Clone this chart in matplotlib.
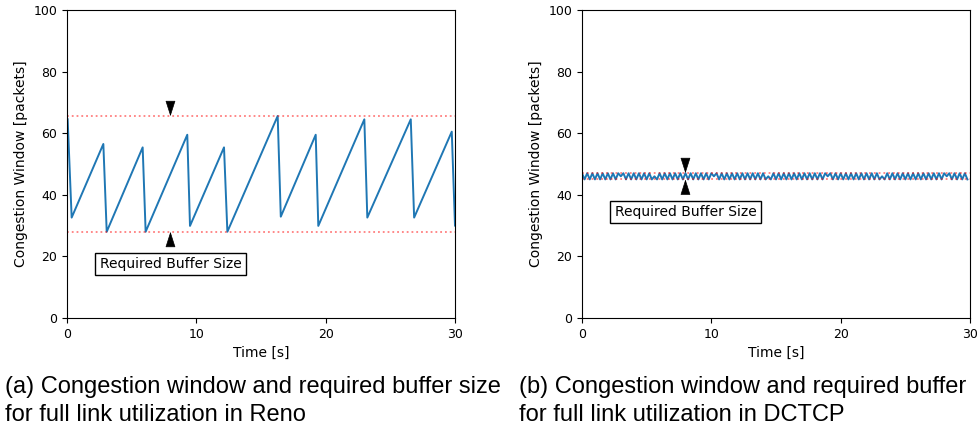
import matplotlib
matplotlib.use('Agg')
import matplotlib.pyplot as plt
import numpy as np

# Reno congestion window (sawtooth)
reno_time = [0.05, 0.36, 2.81, 3.07, 5.85, 6.08, 9.30, 9.51, 12.14, 12.40,
             16.29, 16.53, 19.23, 19.43, 22.99, 23.22, 26.58, 26.84, 29.75, 30.0]
reno_cwnd = [64.5, 32.6, 56.5, 28.0, 55.4, 28.0, 59.5, 29.9, 55.4, 28.0,
             65.6, 32.9, 59.5, 29.9, 64.5, 32.6, 64.5, 32.6, 60.5, 30.0]
reno_buffer = [28.0, 65.5]

# DCTCP congestion window, sampled every 0.2 s
dctcp_step = 0.2
dctcp_cwnd = [
    47, 45, 47, 45, 47, 45, 47, 45, 47, 45, 47, 45, 47, 45, 47, 46, 47, 45, 47, 45,
    47, 45, 47, 45, 47, 45, 47, 45, 46, 45, 47, 45, 47, 45, 47, 45, 47, 45, 47, 45,
    47, 45, 47, 45, 47, 45, 47, 45, 47, 45, 47, 46, 47, 45, 47, 45, 47, 45, 47, 45,
    47, 45, 47, 45, 47, 45, 47, 45, 47, 45, 47, 45, 46, 45, 47, 45, 47, 45, 47, 45,
    47, 45, 47, 45, 47, 45, 47, 45, 47, 45, 47, 45, 47, 45, 47, 46, 47, 45, 47, 45,
    47, 45, 47, 45, 47, 45, 47, 45, 47, 45, 47, 45, 47, 45, 47, 45, 46, 45, 47, 45,
    47, 45, 47, 45, 47, 45, 47, 45, 47, 45, 47, 45, 47, 45, 47, 45, 47, 45, 47, 45,
    47, 46, 47, 45, 47, 45, 47, 45, 47, 45,
]
dctcp_buffer = [45.0, 47.0]

arrow_x = 8
label_fs = 10
tick_fs = 9


def draw_panel(ax, t, cwnd, buf):
    ax.plot(t, cwnd, color='#1f77b4', linewidth=1.4)
    for b in buf:
        ax.axhline(b, color='red', alpha=0.5, linestyle=':', linewidth=1.3)

    lo, hi = buf
    head = '-|>,head_length=1.0,head_width=0.32'
    ax.annotate('', xy=(arrow_x, hi), xytext=(arrow_x, hi + 4.5),
                arrowprops=dict(arrowstyle=head, color='black',
                                shrinkA=0, shrinkB=0, lw=0.5))
    ax.annotate('', xy=(arrow_x, lo), xytext=(arrow_x, lo - 4.5),
                arrowprops=dict(arrowstyle=head, color='black',
                                shrinkA=0, shrinkB=0, lw=0.5))
    ax.text(arrow_x, lo - 10.5, 'Required Buffer Size', ha='center', va='center',
            fontsize=label_fs,
            bbox=dict(boxstyle='square,pad=0.3', facecolor='white',
                      edgecolor='black', linewidth=1))

    ax.set_xlim(0, 30)
    ax.set_ylim(0, 100)
    ax.set_xticks([0, 10, 20, 30])
    ax.set_yticks([0, 20, 40, 60, 80, 100])
    ax.tick_params(labelsize=tick_fs, length=3.5)
    ax.set_xlabel('Time [s]', fontsize=label_fs)
    ax.set_ylabel('Congestion Window [packets]', fontsize=label_fs)


fig = plt.figure(figsize=(9.77, 4.36), dpi=100)
ax1 = fig.add_axes([67 / 977, 118 / 436, 388 / 977, 308 / 436])
ax2 = fig.add_axes([582 / 977, 118 / 436, 388 / 977, 308 / 436])

draw_panel(ax1, reno_time, reno_cwnd, reno_buffer)
dctcp_time = np.arange(len(dctcp_cwnd)) * dctcp_step
draw_panel(ax2, dctcp_time, dctcp_cwnd, dctcp_buffer)

cap_font = dict(family='Liberation Sans', fontsize=17, va='top', ha='left',
                linespacing=1.35)
fig.text(5 / 977, 1 - 376 / 436,
         '(a) Congestion window and required buffer size\n'
         'for full link utilization in Reno', **cap_font)
fig.text(519 / 977, 1 - 376 / 436,
         '(b) Congestion window and required buffer\n'
         'for full link utilization in DCTCP', **cap_font)

fig.savefig('out.png', dpi=100)
